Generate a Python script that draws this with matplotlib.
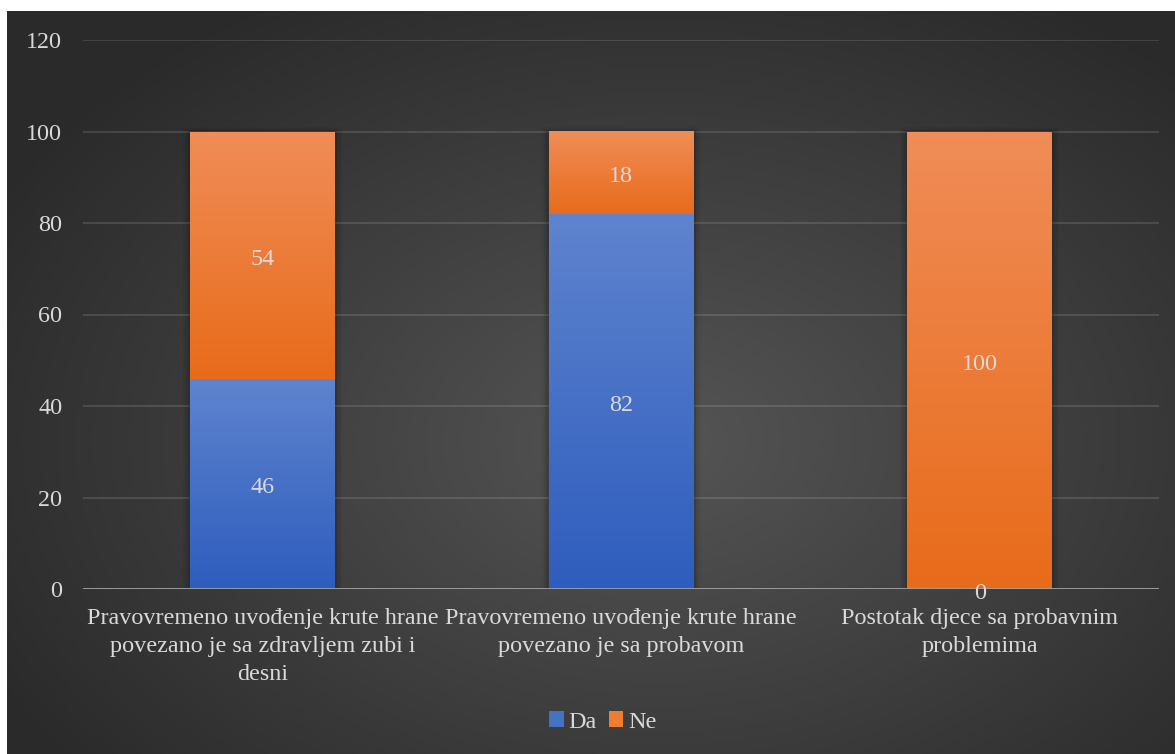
import numpy as np
import matplotlib.pyplot as plt
from matplotlib.colors import LinearSegmentedColormap
from matplotlib.patches import Patch

categories = [
    "Pravovremeno uvođenje krute hrane\npovezano je sa zdravljem zubi i\ndesni",
    "Pravovremeno uvođenje krute hrane\npovezano je sa probavom",
    "Postotak djece sa probavnim\nproblemima",
]
da_values = [46, 82, 0]
ne_values = [54, 18, 100]
series_names = ["Da", "Ne"]
y_ticks = [0, 20, 40, 60, 80, 100, 120]

FONT = ['Liberation Serif', 'DejaVu Serif']
plt.rcParams['font.family'] = 'serif'
plt.rcParams['font.serif'] = FONT
text_color = '#D9D9D9'
fs = 17.4

fig = plt.figure(figsize=(11.75, 7.54), dpi=100)
fig.patch.set_facecolor('white')

# radial background behind the chart
bg = fig.add_axes([7 / 1175, 0, 1 - 7 / 1175, 1 - 11 / 754])
bg.set_axis_off()
h, w = 743, 1168
yy, xx = np.mgrid[0:h, 0:w]
d = np.sqrt(((xx - 650) / 760.0) ** 2 + ((yy - 430) / 520.0) ** 2)
d = np.clip(d, 0, 1)
bg_cmap = LinearSegmentedColormap.from_list('bg', ['#555555', '#2a2a2a'])
bg.imshow(d, cmap=bg_cmap, aspect='auto', extent=[0, 1, 0, 1],
          origin='upper', interpolation='bilinear')
bg.set_xlim(0, 1)
bg.set_ylim(0, 1)

ax = fig.add_axes([83 / 1175, 1 - 589 / 754, (1159 - 83) / 1175, (589 - 40) / 754])
ax.set_facecolor('none')

x = np.arange(len(categories))
width = 0.403
bars_da = ax.bar(x, da_values, width, color='none', zorder=3)
bars_ne = ax.bar(x, ne_values, width, bottom=da_values, color='none', zorder=3)

# soft shadow around each whole stack
for i in range(len(categories)):
    total = da_values[i] + ne_values[i]
    x0 = x[i] - width / 2
    for k, a in enumerate([0.10, 0.07, 0.04]):
        off = 0.007 * (k + 1)
        ax.add_patch(plt.Rectangle((x0 - off, 0), width + 2 * off, total + 0.3 * (k + 1),
                                   color='black', alpha=a, zorder=2, linewidth=0))

blue_cmap = LinearSegmentedColormap.from_list('blue', ['#2e5dbd', '#5f84cf'])
orange_cmap = LinearSegmentedColormap.from_list('orange', ['#e86b1a', '#f08d58'])

grad = np.linspace(0, 1, 256).reshape(-1, 1)
for bars, cmap in [(bars_da, blue_cmap), (bars_ne, orange_cmap)]:
    for p in bars:
        if p.get_height() <= 0:
            continue
        x0, y0 = p.get_x(), p.get_y()
        x1, y1 = x0 + p.get_width(), y0 + p.get_height()
        im = ax.imshow(grad, cmap=cmap, aspect='auto', origin='lower',
                       extent=[x0, x1, y0, y1], zorder=3)
        im.set_clip_path(p)

# value labels in the middle of each segment
for i in range(len(categories)):
    for val, mid in [(da_values[i], da_values[i] / 2),
                     (ne_values[i], da_values[i] + ne_values[i] / 2)]:
        ax.annotate(str(val), (x[i], mid), xytext=(0, -3), textcoords='offset points',
                    ha='center', va='center', color=text_color, fontsize=fs,
                    family=FONT, zorder=5)

ax.set_xlim(-0.5, len(categories) - 0.5)
ax.set_ylim(0, 120)
ax.set_yticks(y_ticks)
ax.set_yticklabels([str(t) for t in y_ticks], color=text_color, fontsize=fs, family=FONT)
ax.set_xticks(x)
ax.set_xticklabels(categories, color=text_color, fontsize=fs, family=FONT, linespacing=1.42)
ax.tick_params(axis='y', length=0, pad=15)
ax.tick_params(axis='x', length=0, pad=14)
ax.grid(axis='y', color='#ffffff', alpha=0.12, linewidth=1.5, zorder=0)
ax.set_axisbelow(True)
for s in ax.spines.values():
    s.set_visible(False)
ax.axhline(0, color='#a0a0a0', linewidth=2, zorder=4)

handles = [Patch(facecolor='#4472c4'), Patch(facecolor='#ed7d31')]
fig.legend(handles, series_names, loc='center', bbox_to_anchor=(603 / 1175, 1 - 722 / 754),
           ncol=2, frameon=False, prop={'family': FONT, 'size': fs}, labelcolor=text_color,
           handlelength=0.6, handleheight=0.6, handletextpad=0.2, columnspacing=0.5)

fig.savefig('out.png', dpi=100)
